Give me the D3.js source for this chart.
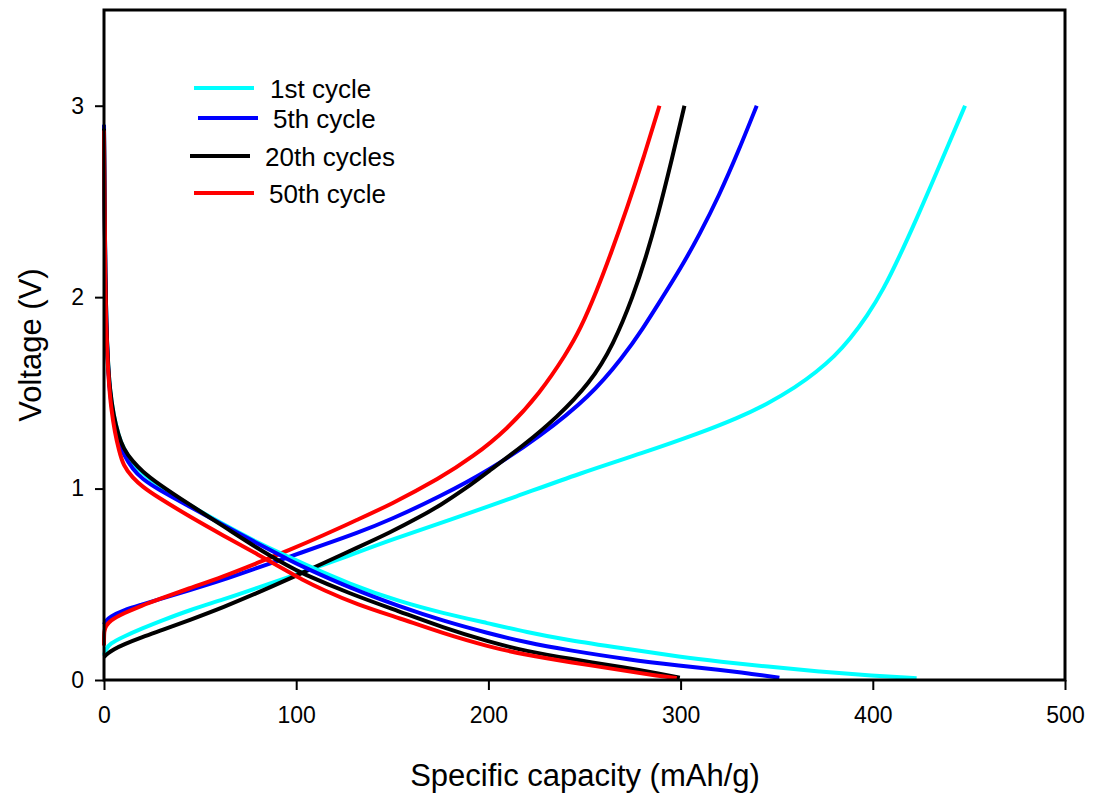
<!DOCTYPE html>
<html>
<head>
<meta charset="utf-8">
<script src="https://cdn.jsdelivr.net/npm/d3@7"></script>
<style>
  html, body { margin: 0; padding: 0; background: #fff; }
  svg { display: block; font-family: "Liberation Sans", Arial, sans-serif; }
</style>
</head>
<body>
<svg id="chart" width="1093" height="798"></svg>
<script>
// Galvanostatic charge/discharge profiles: [specific capacity (mAh/g), voltage (V)]
const cycleNames = ["1st cycle", "5th cycle", "20th cycles", "50th cycle"];

const discharge1st = [[0,2.90],[0.3,2.5],[0.7,2.1],[1.2,1.86],[2,1.67],[3,1.52],[5,1.38],[7.5,1.28],[10,1.21],[15,1.13],[20,1.08],[27.4,1.02],[44.7,0.91],[62,0.815],[79.4,0.72],[96.8,0.64],[102,0.615],[128,0.50],[154,0.409],[176,0.35],[200,0.296],[220,0.25],[240.7,0.209],[273.7,0.16],[300,0.12],[320.5,0.096],[345,0.07],[372.5,0.044],[400,0.022],[422.8,0.009]];
const discharge5th = [[0,2.90],[0.3,2.5],[0.7,2.1],[1.2,1.85],[2,1.65],[3,1.50],[5,1.36],[7.5,1.25],[10,1.18],[15,1.10],[20,1.05],[27.4,1.00],[44.7,0.905],[62,0.81],[79.4,0.715],[96.8,0.625],[102,0.598],[128,0.48],[154,0.383],[176,0.31],[200,0.244],[220,0.195],[240.7,0.157],[273.7,0.105],[300,0.075],[320.5,0.052],[335,0.035],[351.4,0.012]];
const discharge20th = [[0,2.88],[0.3,2.5],[0.7,2.1],[1.2,1.86],[2,1.67],[3,1.52],[5,1.38],[7.5,1.28],[10,1.21],[15,1.14],[20,1.09],[27.4,1.03],[44.7,0.915],[62,0.805],[79.4,0.69],[96.8,0.59],[102,0.562],[128,0.45],[154,0.357],[176,0.275],[200,0.2],[220,0.15],[240.7,0.113],[273.7,0.061],[288,0.035],[299.6,0.012]];
const discharge50th = [[0,2.87],[0.3,2.45],[0.7,2.05],[1.3,1.78],[2.5,1.55],[3.7,1.42],[5.7,1.29],[7.8,1.20],[10,1.12],[15,1.055],[20,1.01],[27.4,0.958],[44.7,0.853],[62,0.755],[79.4,0.66],[96.8,0.56],[102,0.53],[114,0.47],[131.5,0.395],[154,0.322],[176,0.245],[200,0.174],[220,0.13],[240.7,0.096],[273.7,0.044],[288,0.022],[298,0.01]];

const charge1st = [[0,0.13],[1,0.16],[3,0.19],[10,0.226],[20,0.27],[30,0.31],[44.7,0.366],[62,0.42],[79.4,0.48],[96.8,0.54],[114,0.60],[131.5,0.665],[148.8,0.73],[180,0.836],[215,0.96],[247.7,1.08],[280,1.185],[310,1.29],[330,1.37],[344.8,1.44],[360,1.53],[370.8,1.61],[380,1.69],[388.1,1.78],[397,1.90],[405.5,2.04],[414,2.215],[422.8,2.41],[431,2.60],[439.5,2.80],[448,3.0]];
const charge5th = [[0,0.29],[1,0.31],[3,0.33],[10,0.365],[20,0.395],[27.4,0.418],[44.7,0.47],[62,0.523],[79.4,0.585],[96.8,0.645],[114,0.705],[131.5,0.767],[148.8,0.836],[174.8,0.958],[200.8,1.098],[226.8,1.272],[252.9,1.481],[270.2,1.69],[280,1.83],[290,1.99],[300,2.15],[310,2.33],[320,2.53],[330,2.76],[339.6,3.0]];
const charge20th = [[0,0.12],[2,0.14],[5,0.16],[10,0.185],[20,0.225],[30,0.26],[44.7,0.314],[62,0.38],[79.4,0.453],[96.8,0.53],[114,0.61],[131.5,0.69],[148.8,0.77],[164.4,0.852],[174.8,0.912],[187.5,0.995],[200.8,1.095],[218.2,1.225],[235.5,1.37],[252.9,1.551],[265,1.75],[275.5,2.01],[282,2.21],[288,2.42],[295,2.70],[302,3.0]];
const charge50th = [[0,0.18],[0,0.26],[1,0.28],[3,0.31],[10,0.348],[20,0.39],[27.4,0.418],[44.7,0.48],[62,0.54],[79.4,0.61],[96.8,0.68],[114,0.755],[131.5,0.836],[148.8,0.915],[174.8,1.054],[192.1,1.167],[209.5,1.307],[226.8,1.498],[240.7,1.707],[247.7,1.83],[256.3,2.03],[264,2.235],[272,2.46],[280.5,2.72],[289,3.0]];

const capacityTicks = [0, 100, 200, 300, 400, 500];
const voltageTicks = [0, 1, 2, 3];

const dischargeSeries = [discharge1st, discharge5th, discharge20th, discharge50th];
const chargeSeries = [charge1st, charge5th, charge20th, charge50th];
const colors = ["#00ffff", "#0000ff", "#000000", "#ff0000"];

// Plot frame
const plotLeft = 104, plotRight = 1065, plotTop = 10, plotBottom = 680;
const svg = d3.select("#chart");

const x = d3.scaleLinear().domain([0, 500]).range([plotLeft, plotRight]);
const y = d3.scaleLinear().domain([0, 3.5]).range([plotBottom, plotTop]);

const line = d3.line()
  .x(d => x(d[0]))
  .y(d => y(d[1]))
  .curve(d3.curveBasis);

// Curves: charge first, discharge on top, later cycles drawn over earlier ones
const curves = svg.append("g").attr("fill", "none").attr("stroke-width", 4).attr("stroke-linejoin", "round");
[0, 1, 2, 3].forEach(i => {
  curves.append("path").attr("d", line(chargeSeries[i])).attr("stroke", colors[i]);
});
[0, 1, 2, 3].forEach(i => {
  curves.append("path").attr("d", line(dischargeSeries[i])).attr("stroke", colors[i]);
});

// Axes
const xAxis = d3.axisBottom(x).tickValues(capacityTicks).tickSize(10).tickPadding(17).tickFormat(d3.format("d"));
const yAxis = d3.axisLeft(y).tickValues(voltageTicks).tickSize(9).tickPadding(11).tickFormat(d3.format("d"));

const gx = svg.append("g").attr("transform", `translate(0,${plotBottom})`).call(xAxis);
const gy = svg.append("g").attr("transform", `translate(${plotLeft},0)`).call(yAxis);
[gx, gy].forEach(g => {
  g.select(".domain").remove();
  g.selectAll(".tick line").attr("stroke", "#000").attr("stroke-width", 2);
  g.selectAll(".tick text").attr("fill", "#000").style("font-size", "23px").style("font-family", "'Liberation Sans', Arial, sans-serif");
});

// Box around plot area
svg.append("rect")
  .attr("x", plotLeft).attr("y", plotTop)
  .attr("width", plotRight - plotLeft).attr("height", plotBottom - plotTop)
  .attr("fill", "none").attr("stroke", "#000").attr("stroke-width", 3);

// Axis titles
svg.append("text")
  .attr("x", 585).attr("y", 786)
  .attr("text-anchor", "middle").style("font-size", "31px")
  .text("Specific capacity (mAh/g)");
svg.append("text")
  .attr("transform", `translate(41,345) rotate(-90)`)
  .attr("text-anchor", "middle").style("font-size", "31px")
  .text("Voltage (V)");

// Legend
const legendRows = [
  { x1: 194, y: 88, tx: 270 },
  { x1: 198, y: 118, tx: 273 },
  { x1: 190, y: 156, tx: 265 },
  { x1: 194, y: 193, tx: 269 }
];
const legend = svg.append("g");
legendRows.forEach((r, i) => {
  legend.append("line")
    .attr("x1", r.x1).attr("x2", r.x1 + 60)
    .attr("y1", r.y).attr("y2", r.y)
    .attr("stroke", colors[i]).attr("stroke-width", 4);
  legend.append("text")
    .attr("x", r.tx).attr("y", r.y + 9.5)
    .style("font-size", "26px")
    .text(cycleNames[i]);
});
</script>
</body>
</html>
